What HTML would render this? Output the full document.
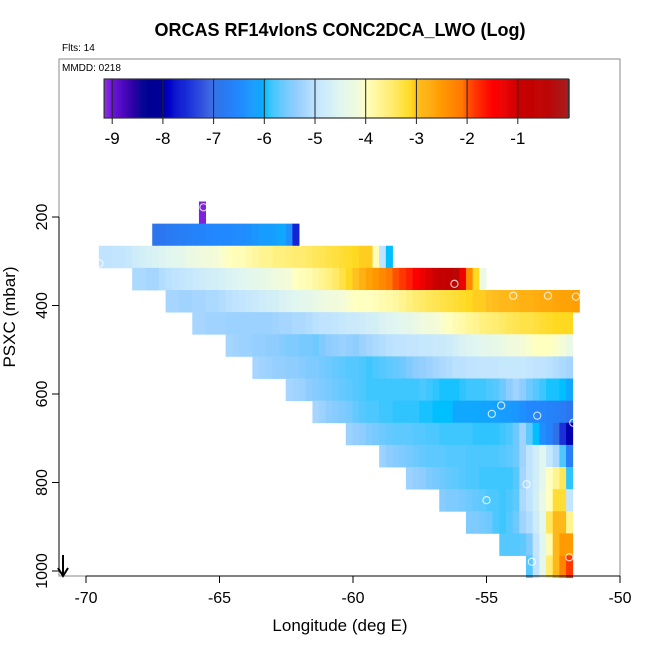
<!DOCTYPE html>
<html><head><meta charset="utf-8"><style>
html,body{margin:0;padding:0;background:#fff;}
svg{display:block;font-family:"Liberation Sans",Arial,sans-serif;}
</style></head><body>
<svg id="chart" width="650" height="650" viewBox="0 0 650 650">
<text x="340" y="36" text-anchor="middle" font-size="18" font-weight="bold">ORCAS RF14vIonS CONC2DCA_LWO (Log)</text>
<text x="62" y="51" font-size="10">Flts: 14</text>
<rect x="59" y="59" width="561" height="517" fill="none" stroke="#888" stroke-width="1"/>
<text x="62" y="71" font-size="10">MMDD: 0218</text>
<g id="cbar"></g>
<g id="cells"></g>
<g id="pts"></g>
<g id="axes"></g>
<text x="340" y="631" text-anchor="middle" font-size="17">Longitude (deg E)</text>
<text transform="translate(15,317) rotate(-90)" text-anchor="middle" font-size="17">PSXC (mbar)</text>
<g>
<line x1="63" y1="555" x2="63" y2="575" stroke="#000" stroke-width="2"/>
<polyline points="58,568 63,576 68,568" fill="none" stroke="#000" stroke-width="2"/>
</g>
</svg>
<script>
// ---- data ----
const lonStart = -69.52;   // west edge of column 0 (deg E)
const lonStep = 0.25;
const pressureBins = [190,240,290,340,390,440,490,540,590,640,690,740,790,840,890,940,990];
const rowStartCol = [15,8,0,5,10,14,19,23,28,32,37,42,46,51,55,60,64];
const row1 = [-9.1];
const row2 = [-6.9,-6.85,-6.8,-6.75,-6.7,-6.65,-6.6,-6.6,-6.55,-6.5,-6.5,-6.5,-6.45,-6.45,-6.4,-6.3,-6.2,-6.2,-6.15,-6.05,-6.4,-7.6];
const row3 = [-5.0,-5.0,-4.95,-4.95,-4.9,-4.8,-4.7,-4.65,-4.6,-4.55,-4.5,-4.45,-4.4,-4.3,-4.25,-4.2,-4.15,-4.1,-4.05,-4.0,-3.95,-3.95,-3.85,-3.8,-3.7,-3.7,-3.6,-3.6,-3.55,-3.5,-3.5,-3.45,-3.4,-3.35,-3.3,-3.25,-3.2,-3.15,-3.1,-3.05,-3.05,-3.95,-5.0,-6.0];
const row4 = [-5.15,-5.15,-5.2,-5.2,-5.1,-5.05,-5.0,-4.95,-4.9,-4.85,-4.8,-4.75,-4.7,-4.65,-4.6,-4.55,-4.5,-4.45,-4.4,-4.35,-4.3,-4.2,-4.15,-4.1,-4.0,-3.95,-3.9,-3.8,-3.7,-3.6,-3.45,-3.3,-3.1,-3.0,-2.8,-2.6,-2.45,-2.3,-2.15,-2.0,-1.85,-1.7,-1.5,-1.3,-1.15,-1.0,-0.8,-0.55,-0.4,-1.3,-2.3,-3.1,-4.3];
const row5 = [-5.2,-5.2,-5.25,-5.25,-5.2,-5.2,-5.15,-5.15,-5.1,-5.05,-5.0,-4.95,-4.9,-4.85,-4.8,-4.75,-4.7,-4.6,-4.55,-4.5,-4.45,-4.4,-4.3,-4.25,-4.2,-4.15,-4.1,-4.05,-4.0,-4.0,-4.0,-3.95,-3.9,-3.85,-3.8,-3.7,-3.6,-3.5,-3.45,-3.4,-3.35,-3.3,-3.25,-3.2,-3.15,-3.1,-3.05,-3.05,-3.0,-2.95,-2.9,-2.9,-2.85,-2.8,-2.8,-2.75,-2.7,-2.7,-2.65,-2.6,-2.6,-2.55];
const row6 = [-5.2,-5.2,-5.25,-5.25,-5.25,-5.3,-5.3,-5.3,-5.3,-5.3,-5.3,-5.3,-5.25,-5.2,-5.2,-5.15,-5.15,-5.1,-5.05,-5.0,-5.0,-4.95,-4.9,-4.85,-4.85,-4.8,-4.75,-4.7,-4.6,-4.55,-4.5,-4.45,-4.4,-4.3,-4.2,-4.15,-4.1,-4.05,-4.0,-3.9,-3.85,-3.75,-3.7,-3.6,-3.55,-3.5,-3.45,-3.4,-3.35,-3.3,-3.3,-3.25,-3.2,-3.15,-3.1,-3.1,-3.1];
const row7 = [-5.2,-5.25,-5.3,-5.3,-5.35,-5.35,-5.4,-5.4,-5.45,-5.5,-5.5,-5.55,-5.55,-5.6,-5.5,-5.4,-5.35,-5.3,-5.35,-5.4,-5.3,-5.2,-5.15,-5.1,-5.05,-5.0,-5.0,-4.95,-4.95,-4.9,-4.9,-4.85,-4.85,-4.8,-4.7,-4.6,-4.55,-4.5,-4.45,-4.4,-4.35,-4.3,-4.2,-4.15,-4.1,-4.05,-4.0,-4.0,-4.0,-4.05,-4.1,-4.3];
const row8 = [-5.2,-5.25,-5.3,-5.35,-5.35,-5.4,-5.4,-5.45,-5.5,-5.5,-5.55,-5.6,-5.65,-5.7,-5.75,-5.75,-5.8,-5.85,-5.8,-5.75,-5.7,-5.65,-5.6,-5.5,-5.4,-5.35,-5.3,-5.2,-5.15,-5.1,-5.05,-5.05,-5.0,-5.0,-4.95,-4.95,-4.95,-4.9,-4.9,-4.9,-4.9,-4.95,-5.0,-5.0,-5.05,-5.1,-5.15,-5.2];
const row9 = [-5.2,-5.25,-5.3,-5.4,-5.45,-5.5,-5.55,-5.6,-5.65,-5.7,-5.75,-5.8,-5.85,-5.85,-5.85,-5.85,-5.85,-5.85,-5.85,-5.85,-5.8,-5.85,-5.9,-5.95,-5.95,-5.95,-5.9,-5.85,-5.85,-5.85,-5.8,-5.75,-5.6,-5.4,-5.25,-5.4,-5.6,-5.75,-5.85,-5.95,-5.95,-6.0,-6.05];
const row10 = [-5.2,-5.3,-5.4,-5.45,-5.5,-5.55,-5.65,-5.75,-5.8,-5.8,-5.85,-5.85,-5.9,-5.9,-5.9,-5.9,-5.95,-5.95,-6.0,-6.0,-6.0,-6.05,-6.05,-6.05,-6.05,-6.1,-6.1,-6.15,-6.2,-6.25,-6.3,-6.4,-6.5,-6.55,-6.55,-6.6,-6.65,-6.75,-6.85];
const row11 = [-5.3,-5.35,-5.4,-5.5,-5.55,-5.6,-5.65,-5.7,-5.7,-5.7,-5.75,-5.75,-5.8,-5.8,-5.85,-5.85,-5.85,-5.85,-5.85,-5.9,-5.9,-5.9,-5.9,-5.85,-5.8,-5.6,-5.25,-5.7,-6.0,-6.4,-6.6,-7.0,-7.5,-7.95];
const row12 = [-5.3,-5.4,-5.45,-5.5,-5.55,-5.6,-5.65,-5.7,-5.7,-5.7,-5.75,-5.75,-5.75,-5.8,-5.8,-5.8,-5.8,-5.8,-5.75,-5.7,-5.6,-5.25,-5.0,-4.75,-4.5,-4.9,-5.15,-5.8,-6.7];
const row13 = [-5.3,-5.35,-5.4,-5.5,-5.55,-5.6,-5.65,-5.7,-5.75,-5.8,-5.8,-5.85,-5.85,-5.85,-5.85,-5.85,-5.75,-5.2,-5.0,-4.75,-4.4,-4.0,-3.7,-3.4,-5.9];
const row14 = [-5.45,-5.5,-5.5,-5.55,-5.6,-5.65,-5.7,-5.8,-5.8,-5.85,-5.8,-5.7,-5.15,-5.0,-4.7,-4.3,-4.0,-3.2,-3.2,-4.95];
const row15 = [-5.5,-5.5,-5.55,-5.6,-5.8,-5.85,-5.75,-5.6,-5.25,-5.1,-4.8,-4.45,-3.4,-2.9,-2.9,-3.7];
const row16 = [-5.75,-5.75,-5.75,-5.7,-5.5,-4.95,-4.5,-3.9,-2.9,-2.5,-2.5];
const row17 = [-5.75,-5.0,-4.4,-3.5,-2.9,-2.25,-1.85];
const rows = [row1,row2,row3,row4,row5,row6,row7,row8,row9,row10,row11,row12,row13,row14,row15,row16,row17];
const pointLon = [-65.6,-69.5,-56.2,-54.0,-52.7,-51.65,-54.8,-54.45,-53.1,-51.75,-53.5,-55.0,-53.3,-51.9];
const pointP = [178,305,351,378,378,380,645,626,649,665,804,840,979,969];
const xTicks = [-70,-65,-60,-55,-50];
const yTicks = [200,400,600,800,1000];
const cbTicks = [-9,-8,-7,-6,-5,-4,-3,-2,-1];

// ---- scales ----
const NS='http://www.w3.org/2000/svg';
const xs = lon => 620 + (lon + 50) * 26.7;
const ys = p => 217 + (p - 200) * 0.4425;
const cbx = v => 315 + (v + 5) * 50.7;
const stops = [[-9.16,'#8a2be2'],[-9,'#6e14d8'],[-8.6,'#3000a8'],[-8.4,'#000090'],[-8,'#000098'],[-7.9,'#0000c8'],[-7.5,'#1a30d8'],[-7.1,'#3d62e0'],[-7,'#3070e8'],[-6.5,'#2288ff'],[-6.05,'#10a8ff'],[-6,'#00bfff'],[-5.9,'#30c4ff'],[-5.8,'#4cc8ff'],[-5.6,'#6ec9ff'],[-5.4,'#8fcdff'],[-5.2,'#a6d6ff'],[-5,'#c0e4ff'],[-4.5,'#e0f6f0'],[-4.1,'#f4fbd8'],[-4,'#ffffc0'],[-3.5,'#ffec70'],[-3.1,'#ffd820'],[-3,'#ffc020'],[-2.5,'#ff9a00'],[-2.1,'#ff7800'],[-2,'#ff5000'],[-1.5,'#ff0000'],[-1.1,'#d80000'],[-1,'#c80000'],[-0.5,'#c00000'],[0,'#a52020']];
function hx(c){return [parseInt(c.substr(1,2),16),parseInt(c.substr(3,2),16),parseInt(c.substr(5,2),16)];}
function color(v){
  if(v<=stops[0][0]) return stops[0][1];
  for(let i=1;i<stops.length;i++){
    if(v<=stops[i][0]){
      const a=hx(stops[i-1][1]),b=hx(stops[i][1]),t=(v-stops[i-1][0])/(stops[i][0]-stops[i-1][0]);
      return 'rgb('+a.map((x,j)=>Math.round(x+(b[j]-x)*t)).join(',')+')';
    }
  }
  return stops[stops.length-1][1];
}
function mk(tag,attrs,parent){const e=document.createElementNS(NS,tag);for(const k in attrs)e.setAttribute(k,attrs[k]);parent.appendChild(e);return e;}

// ---- colorbar ----
const cb=document.getElementById('cbar');
for(let v=-9.16; v<0; v+=0.02){
  const r=mk('rect',{x:cbx(v).toFixed(2),y:79,width:1.3,height:39,fill:color(v+0.01)},cb);
  
  
}
mk('rect',{x:cbx(-9.16),y:79,width:cbx(0)-cbx(-9.16),height:39,fill:'none',stroke:'#333','stroke-width':1.2},cb);
cbTicks.forEach(t=>{
  const x=cbx(t);
  mk('line',{x1:x,y1:79,x2:x,y2:124,stroke:'#222','stroke-width':1},cb);
  const tx=mk('text',{x:x,y:144,'text-anchor':'middle','font-size':17},cb);
  tx.textContent=String(t);
  
  
});

// ---- heatmap ----
const cg=document.getElementById('cells');
rows.forEach((row,ri)=>{
  const y0=ys(pressureBins[ri]-25), y1=ys(pressureBins[ri]+25);
  row.forEach((v,ci)=>{
    const k=rowStartCol[ri]+ci;
    const x0=xs(lonStart+k*lonStep), x1=xs(lonStart+(k+1)*lonStep);
    const r=mk('rect',{x:x0.toFixed(2),y:y0.toFixed(2),width:(x1-x0+0.4).toFixed(2),height:(y1-y0+0.4).toFixed(2),fill:color(v)},cg);
    
    
  });
});

// ---- points ----
const pg=document.getElementById('pts');
pointLon.forEach((lon,i)=>{
  const c=mk('circle',{cx:xs(lon),cy:ys(pointP[i]),r:3.6,fill:'none',stroke:'rgba(255,255,255,0.75)','stroke-width':1.2},pg);
  
  
});

// ---- axes ----
const ag=document.getElementById('axes');
mk('line',{x1:xs(-70),y1:576,x2:620,y2:576,stroke:'#000','stroke-width':1},ag);
mk('line',{x1:59,y1:ys(200),x2:59,y2:ys(1000),stroke:'#000','stroke-width':1},ag);
xTicks.forEach(t=>{
  const x=xs(t);
  mk('line',{x1:x,y1:576,x2:x,y2:583,stroke:'#000'},ag);
  const tx=mk('text',{x:x,y:603,'text-anchor':'middle','font-size':16},ag);
  tx.textContent=String(t);
  
  
});
yTicks.forEach(t=>{
  const y=ys(t);
  mk('line',{x1:52,y1:y,x2:59,y2:y,stroke:'#000'},ag);
  const tx=mk('text',{transform:'translate(47,'+y+') rotate(-90)','text-anchor':'middle','font-size':16},ag);
  tx.textContent=String(t);
  
  
});
</script>
</body></html>
